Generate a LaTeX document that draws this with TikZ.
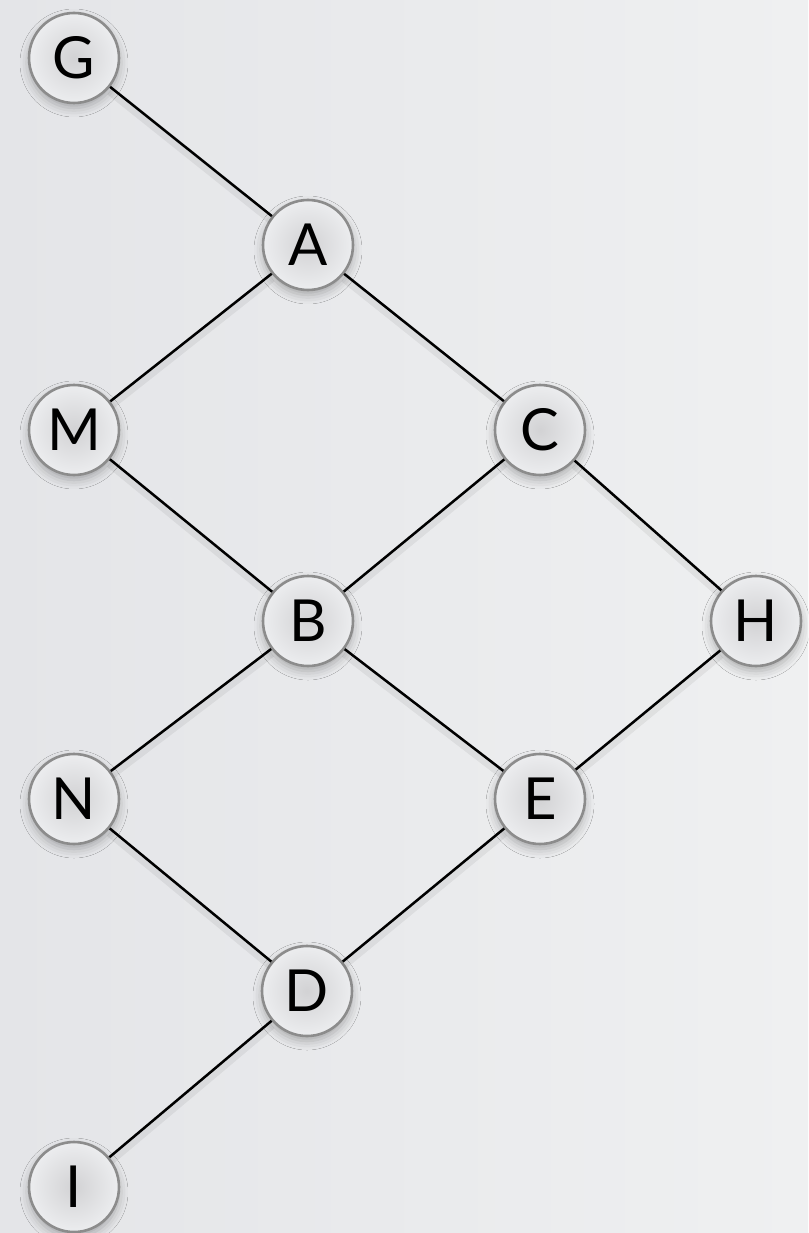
\documentclass[tikz,border=0pt]{standalone}
\usepackage{fontspec}
\setmainfont{Lato}
\usetikzlibrary{shadows.blur}
\definecolor{bgA}{RGB}{228,229,232}
\definecolor{bgB}{RGB}{239,240,241}
\definecolor{ring}{RGB}{140,140,140}
\definecolor{coreIn}{RGB}{210,210,212}
\definecolor{coreOut}{RGB}{236,237,239}

\begin{document}
\begin{tikzpicture}[x=1pt,y=-1pt,
  vertex/.style={circle, draw=ring, line width=2.6pt, minimum size=90pt,
    inner sep=0pt, inner color=coreIn, outer color=coreOut,
    font=\fontsize{58}{60}\selectfont, text=black,
    blur shadow={shadow xshift=0pt, shadow yshift=-5pt,
      shadow blur radius=9pt, shadow opacity=28}},
  link/.style={line width=2.5pt, draw=black,
    preaction={draw=black, opacity=0.06, line width=9pt,
      transform canvas={yshift=-4pt}}}]

% backdrop
\shade[left color=bgA, right color=bgB] (0,0) rectangle (808,1233);
\useasboundingbox (0,0) rectangle (808,1233);

% vertices
\node[vertex] (G) at (74,58)   {G};
\node[vertex] (A) at (308,245) {A};
\node[vertex] (M) at (74,430)  {M};
\node[vertex] (C) at (540,430) {C};
\node[vertex] (B) at (308,621) {B};
\node[vertex] (H) at (756,621) {H};
\node[vertex] (N) at (74,799)  {N};
\node[vertex] (E) at (540,799) {E};
\node[vertex] (D) at (307,991) {D};
\node[vertex] (I) at (74,1187) {I};

% edges
\draw[link] (G) -- (A);
\draw[link] (A) -- (M);
\draw[link] (A) -- (C);
\draw[link] (M) -- (B);
\draw[link] (C) -- (B);
\draw[link] (C) -- (H);
\draw[link] (B) -- (N);
\draw[link] (B) -- (E);
\draw[link] (H) -- (E);
\draw[link] (N) -- (D);
\draw[link] (E) -- (D);
\draw[link] (D) -- (I);
\end{tikzpicture}
\end{document}
